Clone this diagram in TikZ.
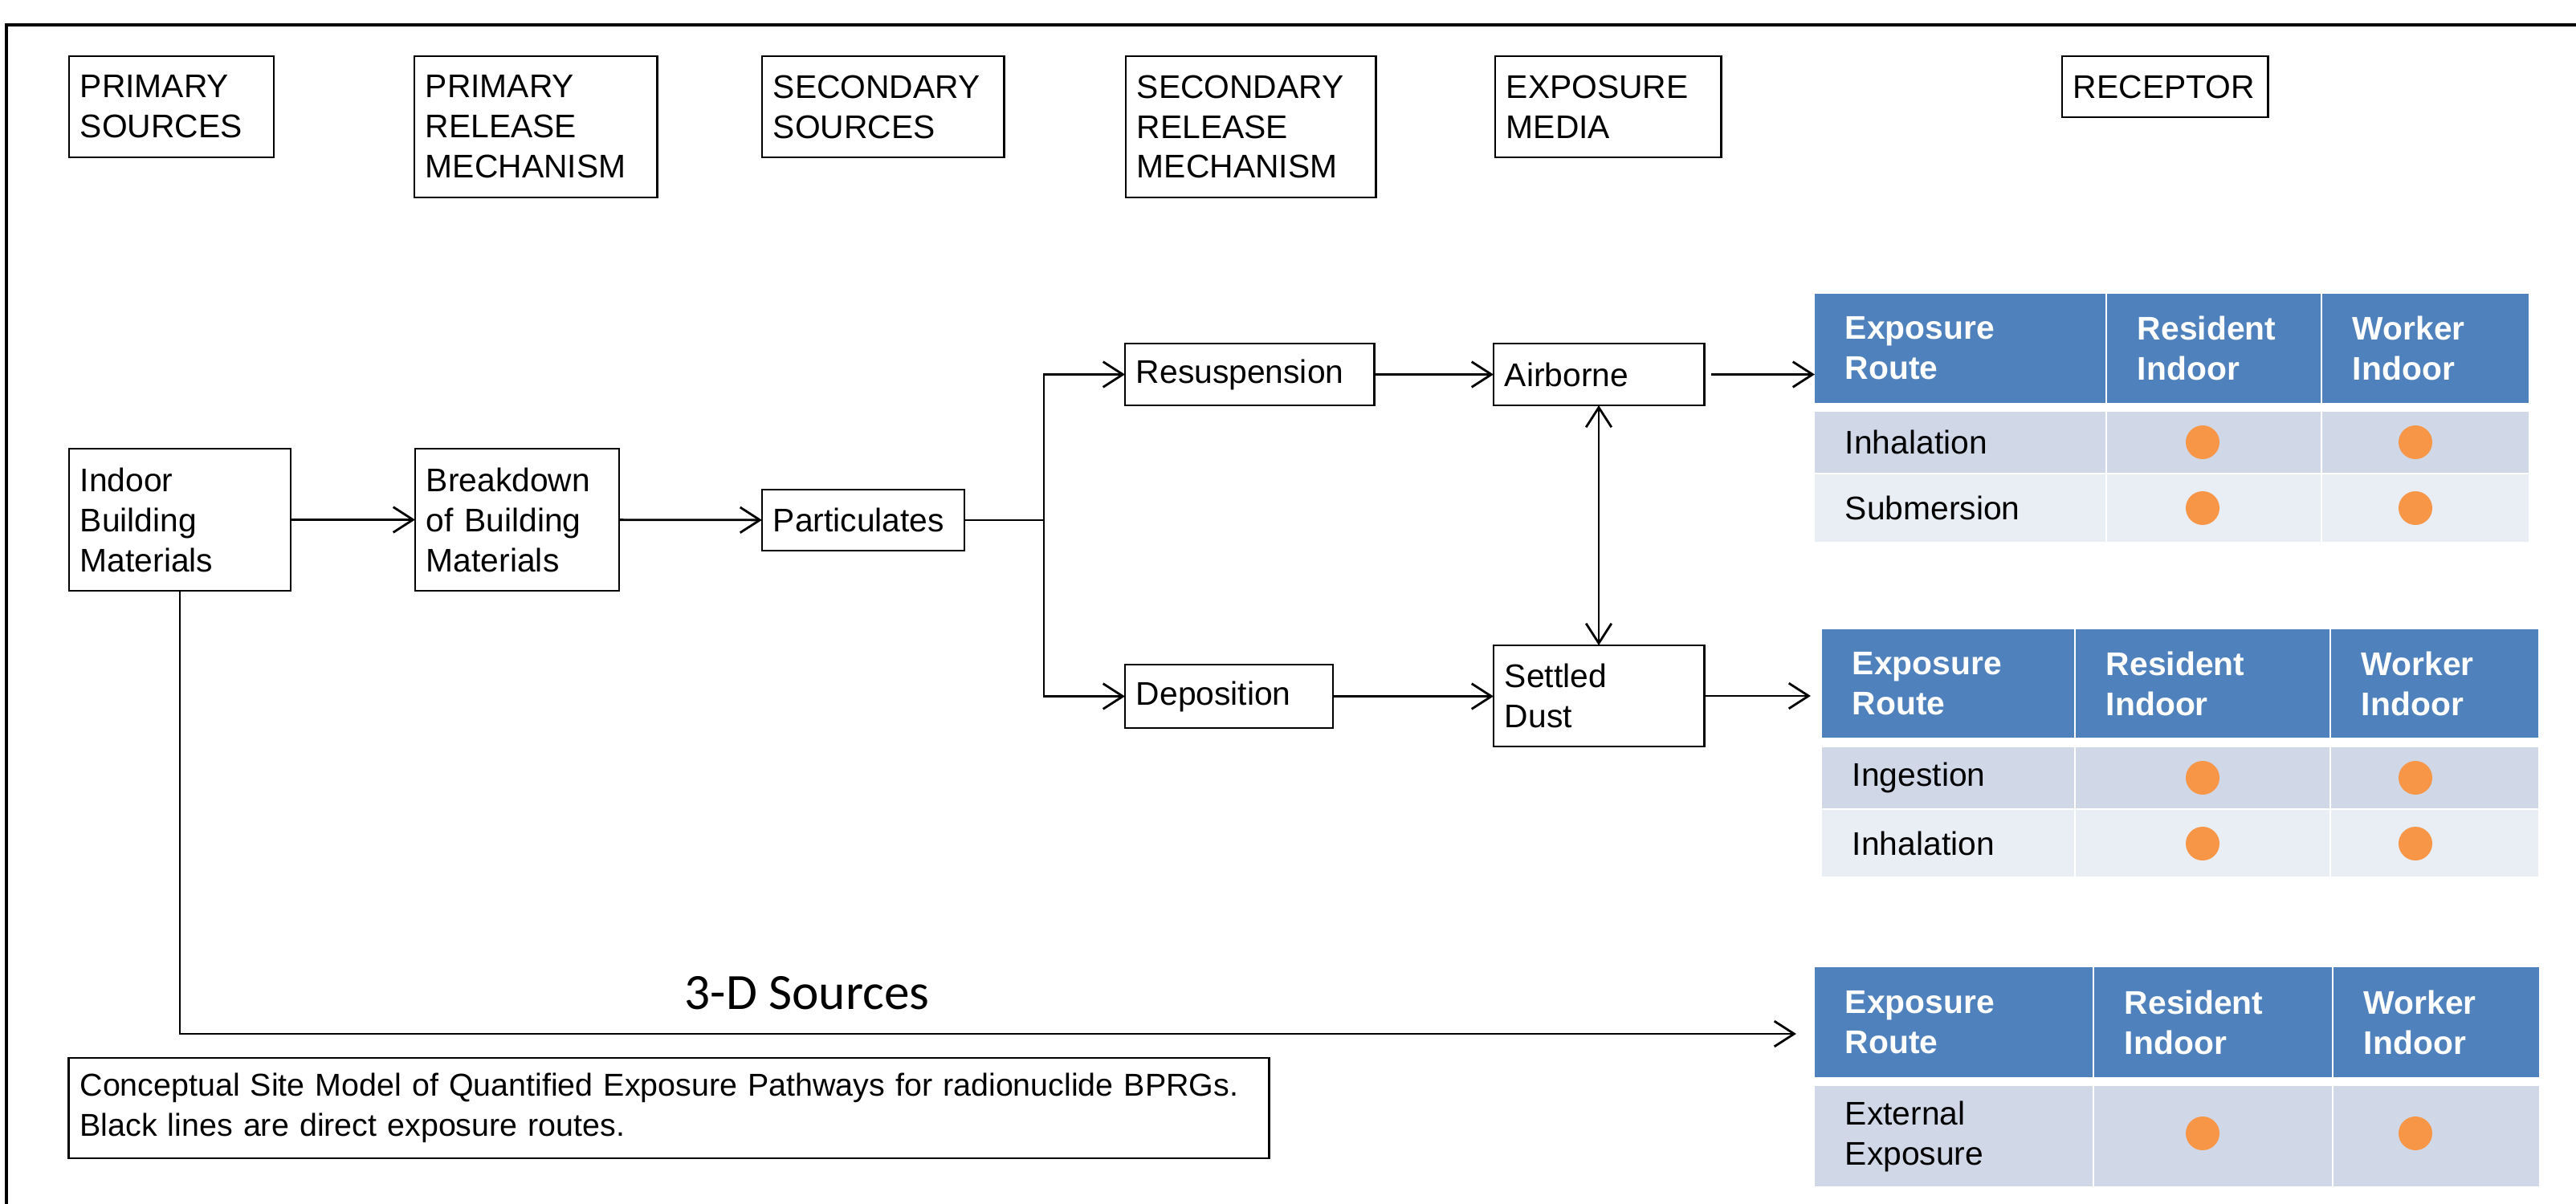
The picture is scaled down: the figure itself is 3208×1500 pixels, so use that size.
\documentclass[tikz,border=0pt]{standalone}
\usepackage{fontspec}
\setmainfont{Liberation Sans}
\newfontfamily\calfont{Carlito}
\usetikzlibrary{arrows.meta}
\definecolor{hdrblue}{HTML}{4F81BD}
\definecolor{rowacol}{HTML}{D0D8E8}
\definecolor{rowbcol}{HTML}{E9EDF4}
\definecolor{dotor}{HTML}{F79646}
\newcommand\mybox[7][]{%
  \pgfmathsetmacro\bcx{(#3+#5)/2}%
  \pgfmathsetmacro\bcy{(#4+#6)/2}%
  \pgfmathsetmacro\bcw{(#5-#3)/100}%
  \pgfmathsetmacro\bch{(#6-#4)/100}%
  \pgfmathsetmacro\bctw{(#5-#3-28)/100}%
  \node[stepbox, minimum width=\bcw cm, minimum height=\bch cm, text width=\bctw cm, #1] (#2) at (\bcx,\bcy) {#7};}
\newcommand\mycell[7]{%
  \pgfmathsetmacro\tcx{(#2+#4)/2}%
  \pgfmathsetmacro\tcy{(#3+#5)/2}%
  \pgfmathsetmacro\tcw{(#4-#2)/100}%
  \pgfmathsetmacro\tch{(#5-#3)/100}%
  \pgfmathsetmacro\tctw{(#4-#2-76)/100}%
  \node[#6, minimum width=\tcw cm, minimum height=\tch cm, text width=\tctw cm] (#1) at (\tcx,\tcy) {#7};}
\begin{document}
\begin{tikzpicture}[x=0.01cm,y=-0.01cm,
  every node/.style={font=\fontsize{11.6}{14.2}\selectfont},
  stepbox/.style={draw, line width=0.8pt, align=left, inner xsep=0.14cm, inner ysep=0pt, outer sep=0pt},
  cellbase/.style={align=left, inner xsep=0.38cm, inner ysep=0pt, outer sep=0pt},
  cellhdr/.style={cellbase, fill=hdrblue, text=white, font=\fontsize{11.6}{14.2}\selectfont\bfseries},
  cella/.style={cellbase, fill=rowacol},
  cellb/.style={cellbase, fill=rowbcol},
  dot/.style={circle, fill=dotor, minimum size=0.42cm, inner sep=0pt},
  conn/.style={line width=0.8pt},
  arr/.style={conn, -{Straight Barb[length=7pt,width=9pt,line width=0.8pt]}},
  darr/.style={conn, {Straight Barb[length=7pt,width=9pt,line width=0.8pt]}-{Straight Barb[length=7pt,width=9pt,line width=0.8pt]}}
]
\useasboundingbox (0,0) rectangle (3208,1500);
\fill[white] (0,0) rectangle (3208,1500);
% outer frame
\draw[line width=1.4pt] (8,1500) -- (8,31) -- (3208,31);

% header boxes
\mybox{h1}{86}{70}{341}{196}{PRIMARY\\SOURCES}
\mybox{h2}{516}{70}{818}{246}{PRIMARY\\RELEASE\\MECHANISM}
\mybox{h3}{949}{70}{1250}{196}{SECONDARY\\SOURCES}
\mybox{h4}{1402}{70}{1713}{246}{SECONDARY\\RELEASE\\MECHANISM}
\mybox{h5}{1862}{70}{2143}{196}{EXPOSURE\\MEDIA}
\mybox{h6}{2568}{70}{2824}{146}{RECEPTOR}

% flow boxes
\mybox{ibm}{86}{559}{362}{736}{Indoor\\Building\\Materials}
\mybox{bd}{517}{559}{771}{736}{Breakdown\\of Building\\Materials}
\mybox{part}{949}{610}{1201}{686}{Particulates}
\mybox{res}{1401}{428}{1711}{505}{Resuspension}
\mybox{dep}{1401}{828}{1660}{907}{Deposition}
\mybox{air}{1860}{428}{2122}{505}{Airborne}
\mybox{dust}{1860}{804}{2122}{930}{Settled\\Dust}

% table 1
\mycell{t1h1}{2260}{366}{2622}{502}{cellhdr}{Exposure\\Route}
\mycell{t1h2}{2624}{366}{2890}{502}{cellhdr}{Resident\\Indoor}
\mycell{t1h3}{2892}{366}{3149}{502}{cellhdr}{Worker\\Indoor}
\mycell{t1a1}{2260}{513}{2622}{589}{cella}{Inhalation}
\mycell{t1a2}{2624}{513}{2890}{589}{cella}{}
\mycell{t1a3}{2892}{513}{3149}{589}{cella}{}
\mycell{t1b1}{2260}{591}{2622}{675}{cellb}{Submersion}
\mycell{t1b2}{2624}{591}{2890}{675}{cellb}{}
\mycell{t1b3}{2892}{591}{3149}{675}{cellb}{}
\node[dot] (t1d1) at (2743,551) {};
\node[dot] (t1d2) at (3008,551) {};
\node[dot] (t1d3) at (2743,633) {};
\node[dot] (t1d4) at (3008,633) {};

% table 2
\mycell{t2h1}{2269}{784}{2583}{919}{cellhdr}{Exposure\\Route}
\mycell{t2h2}{2585}{784}{2901}{919}{cellhdr}{Resident\\Indoor}
\mycell{t2h3}{2903}{784}{3161}{919}{cellhdr}{Worker\\Indoor}
\mycell{t2a1}{2269}{931}{2583}{1007}{cella}{Ingestion}
\mycell{t2a2}{2585}{931}{2901}{1007}{cella}{}
\mycell{t2a3}{2903}{931}{3161}{1007}{cella}{}
\mycell{t2b1}{2269}{1009}{2583}{1092}{cellb}{Inhalation}
\mycell{t2b2}{2585}{1009}{2901}{1092}{cellb}{}
\mycell{t2b3}{2903}{1009}{3161}{1092}{cellb}{}
\node[dot] (t2d1) at (2743,969) {};
\node[dot] (t2d2) at (3008,969) {};
\node[dot] (t2d3) at (2743,1051) {};
\node[dot] (t2d4) at (3008,1051) {};

% table 3
\mycell{t3h1}{2260}{1205}{2606}{1342}{cellhdr}{Exposure\\Route}
\mycell{t3h2}{2608}{1205}{2904}{1342}{cellhdr}{Resident\\Indoor}
\mycell{t3h3}{2906}{1205}{3162}{1342}{cellhdr}{Worker\\Indoor}
\mycell{t3a1}{2260}{1353}{2606}{1478}{cella}{External\\Exposure}
\mycell{t3a2}{2608}{1353}{2904}{1478}{cella}{}
\mycell{t3a3}{2906}{1353}{3162}{1478}{cella}{}
\node[dot] (t3d1) at (2743,1412) {};
\node[dot] (t3d2) at (3008,1412) {};

% caption
\mybox[font=\fontsize{11.2}{14.2}\selectfont]{cap}{86}{1318}{1580}{1443}{Conceptual Site Model of Quantified Exposure Pathways for radionuclide BPRGs.\\Black lines are direct exposure routes.}
\node[anchor=base west, inner sep=0pt, font=\calfont\fontsize{18}{21}\selectfont] (lbl3d) at (852,1257) {3-D Sources};

% connectors
\coordinate (br) at (1300,648);
\coordinate (c3d) at (224,1288);
\draw[arr] (ibm) -- (bd);
\draw[arr] (bd) -- (part);
\draw[conn] (part.east) -- (br);
\draw[arr] (br) |- (res.west);
\draw[arr] (br) |- (dep.west);
\draw[arr] (res) -- (air);
\draw[arr] (dep.east) -- (dep.east -| dust.west);
\draw[darr] (air.south) -- (dust.north);
\draw[arr, shorten <=0.09cm] (air.east) -- (air.east -| t1h1.west);
\draw[arr, shorten >=0.14cm] (dust.east) -- (dust.east -| t2h1.west);
\draw[arr, shorten >=0.23cm] (ibm.south) -- (c3d) -- (c3d -| t3h1.west);
\end{tikzpicture}
\end{document}
